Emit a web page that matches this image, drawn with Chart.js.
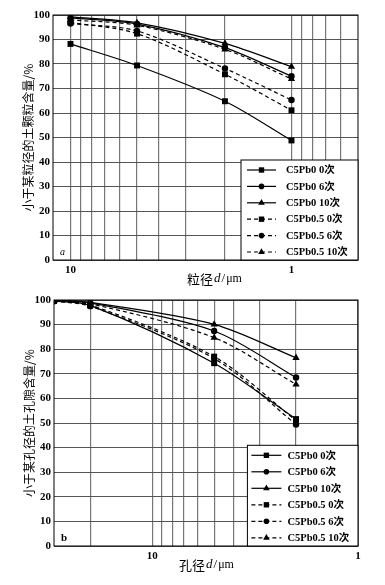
<!DOCTYPE html>
<html>
<head>
<meta charset="utf-8">
<script src="https://cdn.jsdelivr.net/npm/chart.js@4.4.0/dist/chart.umd.min.js"></script>
<style>
body { margin: 0; background: #fff; }
canvas { display: block; }
</style>
</head>
<body>
<canvas id="chartA" width="385" height="290"></canvas>
<canvas id="chartB" width="385" height="295"></canvas>
<script>
const seriesNames = ['C5Pb0 0次', 'C5Pb0 6次', 'C5Pb0 10次', 'C5Pb0.5 0次', 'C5Pb0.5 6次', 'C5Pb0.5 10次'];

// (a) particle size distribution
const grainSizes = [10, 5, 2, 1];
const grainPb0_0 = [88.2, 79.4, 64.8, 48.8];
const grainPb0_6 = [98.8, 96.3, 86.7, 75.0];
const grainPb0_10 = [99.2, 96.8, 88.4, 78.9];
const grainPb05_0 = [97.0, 92.4, 75.8, 61.1];
const grainPb05_6 = [96.5, 93.5, 78.2, 65.3];
const grainPb05_10 = [98.0, 95.8, 86.0, 73.9];
const grainGrid = [10, 9, 8, 7, 6, 5, 4, 3, 2, 1, 0.9, 0.8, 0.7, 0.6];

// (b) pore size distribution
const poreSizes = [30, 20, 5, 2];
const porePb0_0 = [99.6, 97.8, 74.3, 51.6];
const porePb0_6 = [99.8, 98.8, 87.4, 68.5];
const porePb0_10 = [99.8, 99.0, 90.1, 76.5];
const porePb05_0 = [99.6, 98.0, 77.0, 51.0];
const porePb05_6 = [99.5, 97.5, 76.2, 49.4];
const porePb05_10 = [99.7, 98.5, 84.7, 65.7];
const poreGrid = [20, 10, 9, 8, 7, 6, 5, 4, 3, 2, 1];

const xTickLabels = [10, 1];

const serif = '"Liberation Serif", "Noto Sans CJK SC", serif';
const styles = ['rect', 'circle', 'triangle'];
const radii = { rect: 4.2, circle: 3.2, triangle: 4.2 };

function buildDatasets(xs, lists) {
    return lists.map((vals, i) => {
        const style = styles[i % 3];
        return {
            label: seriesNames[i],
            data: xs.map((x, j) => ({ x: x, y: vals[j] })),
            borderColor: '#000',
            backgroundColor: '#000',
            borderWidth: 1.2,
            borderDash: i < 3 ? [] : [4, 3],
            pointStyle: style,
            pointRadius: radii[style],
            pointBorderWidth: 0,
            tension: 0.3,
            fill: false
        };
    });
}

const framePlugin = {
    id: 'frame',
    afterDraw(chart, args, opts) {
        const { ctx, chartArea } = chart;
        ctx.save();
        // border
        ctx.strokeStyle = '#000';
        ctx.lineWidth = 1;
        ctx.setLineDash([]);
        ctx.strokeRect(chartArea.left, chartArea.top, chartArea.right - chartArea.left, chartArea.bottom - chartArea.top);

        // panel letter
        ctx.fillStyle = '#000';
        ctx.font = opts.letterFont;
        ctx.textBaseline = 'alphabetic';
        ctx.textAlign = 'left';
        ctx.fillText(opts.letter, chartArea.left + 7, chartArea.bottom - 5);

        // legend box
        const b = opts.box;
        const x0 = chartArea.right - b.w;
        const y0 = chartArea.bottom - b.h;
        ctx.fillStyle = '#fff';
        ctx.fillRect(x0, y0, b.w, b.h);
        ctx.strokeStyle = '#000';
        ctx.strokeRect(x0, y0, b.w, b.h);
        chart.data.datasets.forEach((ds, i) => {
            const y = y0 + b.first + i * b.step;
            ctx.lineWidth = 1.2;
            ctx.setLineDash(ds.borderDash);
            ctx.beginPath();
            ctx.moveTo(x0 + b.lx0, y);
            ctx.lineTo(x0 + b.lx1, y);
            ctx.stroke();
            ctx.setLineDash([]);
            ctx.fillStyle = '#000';
            Chart.helpers.drawPoint(ctx, { pointStyle: ds.pointStyle, radius: ds.pointRadius - 0.4, borderWidth: 0, rotation: 0 },
                (x0 + b.lx0 + x0 + b.lx1) / 2, y);
            ctx.font = 'bold 10.5px ' + serif;
            ctx.textBaseline = 'middle';
            ctx.fillText(ds.label, x0 + b.tx, y + 0.5);
        });

        // x title with italic d
        const parts = [
            [opts.xName, '13px "Noto Sans CJK SC", sans-serif'],
            ['d', 'italic 13px ' + serif],
            ['/', '13px ' + serif],
            ['μm', '12px ' + serif]
        ];
        let total = 0;
        parts.forEach(p => { ctx.font = p[1]; total += ctx.measureText(p[0]).width + 1; });
        let tx = opts.xTitleX - total / 2;
        ctx.fillStyle = '#000';
        ctx.textBaseline = 'middle';
        parts.forEach(p => {
            ctx.font = p[1];
            ctx.fillText(p[0], tx, opts.xTitleY);
            tx += ctx.measureText(p[0]).width + 1;
        });
        ctx.restore();
    }
};

function makeChart(id, xs, lists, cfg) {
    new Chart(document.getElementById(id), {
        type: 'line',
        data: { datasets: buildDatasets(xs, lists) },
        options: {
            responsive: false,
            animation: false,
            layout: { padding: cfg.padding },
            plugins: {
                legend: { display: false },
                tooltip: { enabled: false },
                frame: cfg.frame
            },
            scales: {
                x: {
                    type: 'logarithmic',
                    reverse: true,
                    min: cfg.xMin,
                    max: cfg.xMax,
                    afterBuildTicks: scale => { scale.ticks = cfg.grid.map(v => ({ value: v })); },
                    afterFit: scale => { scale.height = cfg.xHeight; },
                    grid: { color: '#777', lineWidth: 1.2, drawTicks: false },
                    border: { display: false },
                    ticks: {
                        autoSkip: false,
                        maxRotation: 0,
                        padding: 4,
                        color: '#000',
                        font: { family: serif, size: 11, weight: 'bold' },
                        callback: v => xTickLabels.includes(v) ? String(v) : ''
                    }
                },
                y: {
                    min: 0,
                    max: 100,
                    afterFit: scale => { scale.width = cfg.yWidth; },
                    grid: { color: '#555', lineWidth: 1, drawTicks: false },
                    border: { display: false },
                    ticks: {
                        stepSize: 10,
                        padding: 3,
                        color: '#000',
                        font: { family: serif, size: 11, weight: 'bold' }
                    },
                    title: {
                        display: true,
                        text: cfg.yTitle,
                        color: '#000',
                        padding: { top: 0, bottom: 0 },
                        font: { family: '"Noto Sans CJK SC", sans-serif', size: 12 }
                    }
                }
            }
        },
        plugins: [framePlugin]
    });
}

makeChart('chartA', grainSizes,
    [grainPb0_0, grainPb0_6, grainPb0_10, grainPb05_0, grainPb05_6, grainPb05_10], {
    padding: { top: 15, right: 27, bottom: 0, left: 21 },
    xMin: 0.5, xMax: 12, grid: grainGrid, xHeight: 30, yWidth: 32,
    yTitle: '小于某粒径的土颗粒含量/%',
    frame: {
        letter: 'a', letterFont: 'italic 10px ' + serif,
        box: { w: 117, h: 100, first: 10, step: 16.4, lx0: 6, lx1: 35, tx: 45 },
        xName: '粒径', xTitleX: 215, xTitleY: 279
    }
});

makeChart('chartB', poreSizes,
    [porePb0_0, porePb0_6, porePb0_10, porePb05_0, porePb05_6, porePb05_10], {
    padding: { top: 10, right: 27, bottom: 0, left: 22 },
    xMin: 1, xMax: 30, grid: poreGrid, xHeight: 39, yWidth: 32,
    yTitle: '小于某孔径的土孔隙含量/%',
    frame: {
        letter: 'b', letterFont: 'bold 11px ' + serif,
        box: { w: 110.6, h: 100.7, first: 10, step: 16.5, lx0: 4, lx1: 34, tx: 40 },
        xName: '孔径', xTitleX: 207, xTitleY: 275
    }
});
</script>
</body>
</html>
